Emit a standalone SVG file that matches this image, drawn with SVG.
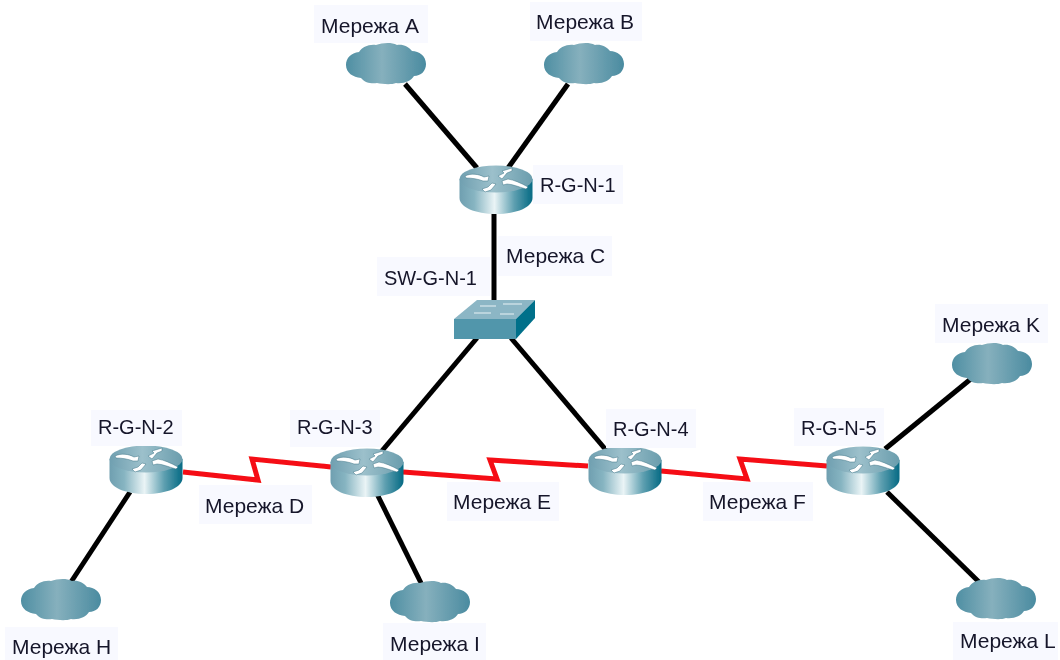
<svg xmlns="http://www.w3.org/2000/svg" xmlns:xlink="http://www.w3.org/1999/xlink" width="1060" height="660" viewBox="0 0 1060 660">
<style>
text{font-family:"Liberation Sans",Arial,sans-serif;fill:#16162a}
.m{font-size:21px}
.r{font-size:20px}
.s{font-size:20px}
.bg{fill:#f8f9ff}
.cable{stroke:#050505;stroke-width:5;fill:none}
.serial{stroke:#f50f12;stroke-width:5;fill:none}
.arrow{fill:#fff;stroke:#3f7486;stroke-width:.5}
</style>
<defs>
<filter id="soft" x="-5%" y="-5%" width="110%" height="110%"><feGaussianBlur stdDeviation="0.5"/></filter>
<linearGradient id="rb" x1="0" x2="1" y1="0" y2="0"><stop offset="0" stop-color="#6f9fb0"/><stop offset=".2" stop-color="#86b4c1"/><stop offset=".48" stop-color="#eaf4f6"/><stop offset=".75" stop-color="#5e9fb0"/><stop offset="1" stop-color="#056a84"/></linearGradient>
<linearGradient id="rt" x1="0" x2="1" y1="0" y2="0"><stop offset="0" stop-color="#6f9fb0"/><stop offset=".45" stop-color="#9cc0cb"/><stop offset="1" stop-color="#6a9dad"/></linearGradient>
<linearGradient id="cl" x1="0" x2="1" y1="0" y2="0"><stop offset="0" stop-color="#4f8fa3"/><stop offset=".45" stop-color="#86b0bd"/><stop offset="1" stop-color="#4a8ba0"/></linearGradient>
<symbol id="router" width="74" height="50" viewBox="0 0 74 50" overflow="visible">
<path d="M0.5 14V33C0.500 42 16 49 37 49S73.500 42 73.500 33V14Z" fill="url(#rb)"/>
<ellipse cx="37" cy="14" rx="36.500" ry="13.500" fill="url(#rt)"/>
<path class="arrow" d="M6 11C12 8 20 9 25 12L30 11L29 16L24 16C19 14 13 13 7 13Z"/>
<path class="arrow" d="M39 11L45 8L43 6L53 3L53 6L48 8L43 14Z"/>
<path class="arrow" d="M43 16L49 14C55 15 62 18 69 22L67 24C60 22 53 19 48 19L44 20Z"/>
<path class="arrow" d="M23 24L29 22L33 18L37 19L32 25L26 27Z"/>
</symbol>
<symbol id="cloud" width="80" height="42" viewBox="0 0 80 42" overflow="visible">
<path fill="url(#cl)" d="M0 22C0 15 5 10 13 9C16 4 23 1 30 2C36 0 45 -1 51 2C57 1 63 4 66 8C73 8 80 13 80 21C80 28 75 33 68 33C65 38 58 41 50 40C45 42 36 41 31 40C26 41 19 40 15 35C7 34 0 30 0 22Z"/>
</symbol>
</defs>
<rect width="1060" height="660" fill="#fff"/>
<g filter="url(#soft)">
<g id="connectors">
<path class="cable" d="M405 84L477 168"/>
<path class="cable" d="M568 84L508 168"/>
<path class="cable" d="M494 212V302"/>
<path class="cable" d="M477 338L381 452"/>
<path class="cable" d="M511 338L606 450"/>
<path class="cable" d="M130 492L71 582"/>
<path class="cable" d="M377 494L423 587"/>
<path class="cable" d="M885 449L972 378"/>
<path class="cable" d="M887 492L979 582"/>
<path class="serial" d="M183 472L258 480L252 459L331 467"/>
<path class="serial" d="M403 472L497 479L490 460L588 466"/>
<path class="serial" d="M661 471L747 479L740 459L827 466"/>
</g>
<g id="cloud-a"><use xlink:href="#cloud" href="#cloud" x="346" y="43"/><rect class="bg" x="314" y="5" width="114" height="38"/><text class="m" x="321" y="33">Мережа A</text></g>
<g id="cloud-b"><use xlink:href="#cloud" href="#cloud" x="544" y="43"/><rect class="bg" x="530" y="2" width="112" height="39"/><text class="m" x="536" y="29">Мережа B</text></g>
<g id="cloud-h"><use xlink:href="#cloud" href="#cloud" x="21" y="579"/><rect class="bg" x="5" y="627" width="113" height="33"/><text class="m" x="12" y="654">Мережа H</text></g>
<g id="cloud-i"><use xlink:href="#cloud" href="#cloud" x="390" y="581"/><rect class="bg" x="383" y="623" width="103" height="37"/><text class="m" x="390" y="651">Мережа I</text></g>
<g id="cloud-k"><use xlink:href="#cloud" href="#cloud" x="952" y="343"/><rect class="bg" x="935" y="304" width="113" height="39"/><text class="m" x="942" y="332">Мережа K</text></g>
<g id="cloud-l"><use xlink:href="#cloud" href="#cloud" x="956" y="578"/><rect class="bg" x="953" y="622" width="105" height="38"/><text class="m" x="960" y="648">Мережа L</text></g>
<g id="r-g-n-1"><use xlink:href="#router" href="#router" x="459" y="165"/><rect class="bg" x="533" y="165" width="90" height="39"/><text class="r" x="540" y="192">R-G-N-1</text></g>
<g id="r-g-n-2"><use xlink:href="#router" href="#router" x="109" y="445"/><rect class="bg" x="91" y="410" width="91" height="36"/><text class="r" x="98" y="434">R-G-N-2</text></g>
<g id="r-g-n-3"><use xlink:href="#router" href="#router" x="330" y="448"/><rect class="bg" x="290" y="410" width="90" height="37"/><text class="r" x="297" y="434">R-G-N-3</text></g>
<g id="r-g-n-4"><use xlink:href="#router" href="#router" x="588" y="446"/><rect class="bg" x="606" y="409" width="90" height="39"/><text class="r" x="613" y="436">R-G-N-4</text></g>
<g id="r-g-n-5"><use xlink:href="#router" href="#router" x="826" y="446"/><rect class="bg" x="794" y="408" width="90" height="38"/><text class="r" x="801" y="435">R-G-N-5</text></g>
<g id="sw-g-n-1">
<path d="M454 319H516V339H454Z" fill="#5196ab"/>
<path d="M454 319L477 300H535L516 319Z" fill="#8cb6c5"/>
<path d="M516 339V319L535 300V318Z" fill="#06708a"/>
<path d="M480 306H496M503 304H522M474 313H491M500 314H514" stroke="#e8f2f5" stroke-width="1.200" fill="none"/>
<rect class="bg" x="377" y="257" width="113" height="39"/><text class="s" x="384" y="285">SW-G-N-1</text>
</g>
<g id="label-c"><rect class="bg" x="498" y="236" width="114" height="40"/><text class="m" x="506" y="263">Мережа C</text></g>
<g id="label-d"><rect class="bg" x="199" y="485" width="113" height="39"/><text class="m" x="205" y="513">Мережа D</text></g>
<g id="label-e"><rect class="bg" x="447" y="482" width="112" height="39"/><text class="m" x="453" y="509">Мережа E</text></g>
<g id="label-f"><rect class="bg" x="703" y="482" width="110" height="39"/><text class="m" x="709" y="509">Мережа F</text></g>
</g>
</svg>
